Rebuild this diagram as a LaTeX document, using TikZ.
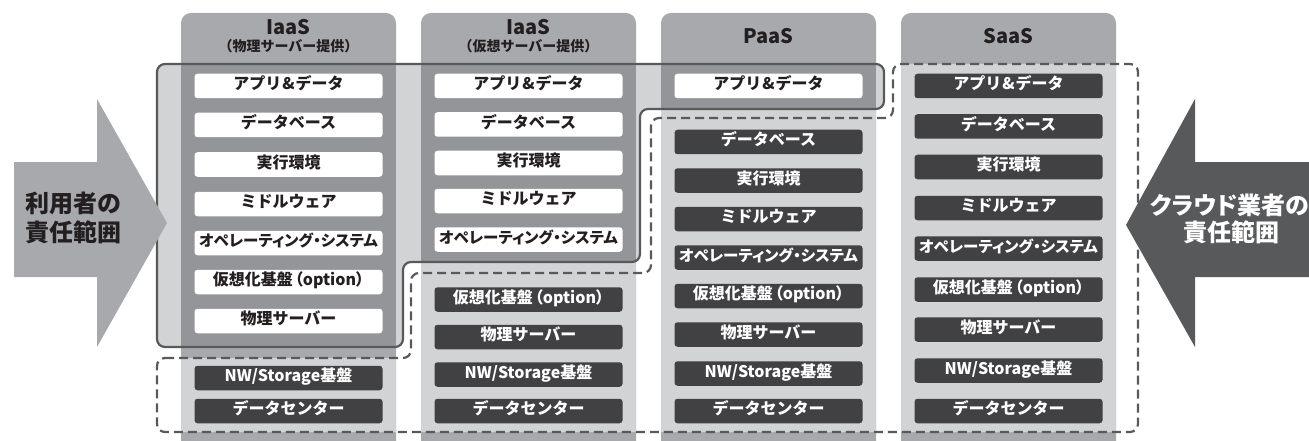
\documentclass[tikz,border=0pt]{standalone}
\usepackage{fontspec}
\newfontfamily\jp{Noto Sans CJK JP}
\newfontfamily\jpp{Noto Sans CJK JP}[RawFeature=+palt]
\definecolor{colmid}{HTML}{A7A9AC}
\definecolor{coldark}{HTML}{939598}
\definecolor{collight}{HTML}{D1D3D4}
\definecolor{boxdark}{HTML}{414042}
\definecolor{lineclr}{HTML}{58595B}
\definecolor{arrowL}{HTML}{A7A9AC}
\definecolor{arrowR}{HTML}{58595B}
\definecolor{txtdark}{HTML}{231F20}
\newcommand{\oslabel}{{\jpp\bfseries\fontsize{15.5}{16}\selectfont オペレーティング・システム}}
\newcommand{\virtlabel}{{\jpp\bfseries 仮想化基盤\hspace{2pt}（option）}}
\newcommand{\applabel}{アプリ\hspace{1pt}\&\hspace{1pt}データ}
\tikzset{
  ubox/.style={fill=white, rounded corners=3pt, minimum width=188pt, minimum height=24.5pt,
    inner sep=0pt, text height=0.8em, text depth=0.04em,
    font=\jp\bfseries\fontsize{16}{17}\selectfont, text=txtdark},
  pbox/.style={ubox, fill=boxdark, text=white},
  hdr/.style={inner sep=0pt, text height=0.75em, text depth=0em, font=\jp\bfseries\fontsize{20}{21}\selectfont, text=txtdark},
  subhdr/.style={inner sep=0pt, text height=0.8em, text depth=0.04em, font=\jp\bfseries\fontsize{14}{15}\selectfont, text=txtdark},
  arrtxt/.style={inner sep=0pt, text height=0.8em, text depth=0.04em, font=\jpp\bfseries\fontsize{24}{25}\selectfont},
  frameline/.style={draw=lineclr, line width=2.2pt, rounded corners=8pt},
  dashline/.style={frameline, dash pattern=on 9pt off 5pt},
}
\begin{document}
\begin{tikzpicture}[x=1pt,y=-1pt]
\useasboundingbox (0,0) rectangle (1309,441);
% columns
\foreach \cx in {181,421,661,901}{
  \fill[colmid] (\cx,441) [rounded corners=10pt] -- (\cx,13) -- (\cx+215,13) [sharp corners] -- (\cx+215,441) -- cycle;
}
% bands between frames
\fill[collight] (421,262) rectangle (636,274);
\fill[collight] (661,109) rectangle (876,119);
% provider region (columns light)
\begin{scope}
  \clip[rounded corners=8pt] (157,358) -- (411,358) -- (411,273) -- (651,273) -- (651,118) -- (893,118) -- (893,64) -- (1138,64) -- (1138,432) -- (157,432) -- cycle;
  \foreach \cx in {181,421,661,901}{ \fill[collight] (\cx,0) rectangle (\cx+215,441); }
\end{scope}
% user region
\fill[collight, rounded corners=8pt] (157,64) -- (884,64) -- (884,109) -- (640,109) -- (640,262) -- (403,262) -- (403,347) -- (157,347) -- cycle;
\begin{scope}
  \clip[rounded corners=8pt] (157,64) -- (884,64) -- (884,109) -- (640,109) -- (640,262) -- (403,262) -- (403,347) -- (157,347) -- cycle;
  \foreach \cx in {181,421,661,901}{ \fill[coldark] (\cx,0) rectangle (\cx+215,441); }
\end{scope}
% frames
\draw[frameline] (157,64) -- (884,64) -- (884,109) -- (640,109) -- (640,262) -- (403,262) -- (403,347) -- (157,347) -- cycle;
\draw[dashline] (157,358) -- (411,358) -- (411,273) -- (651,273) -- (651,118) -- (893,118) -- (893,64) -- (1138,64) -- (1138,432) -- (157,432) -- cycle;
% headers
\node[hdr] (h1) at (288.5,31) {IaaS};
\node[subhdr] (h1s) at (288.5,47.5) {（物理サーバー提供）};
\node[hdr] (h2) at (528.5,31) {IaaS};
\node[subhdr] (h2s) at (528.5,47.5) {（仮想サーバー提供）};
\node[hdr] (h3) at (768.5,39.5) {PaaS};
\node[hdr] (h4) at (1008.5,40) {SaaS};
% column 1
\node[ubox] (a1) at (288.5,86) {\applabel};
\node[ubox] (a2) at (288.5,125) {データベース};
\node[ubox] (a3) at (288.5,164.5) {実行環境};
\node[ubox] (a4) at (288.5,204) {ミドルウェア};
\node[ubox] (a5) at (288.5,243) {\oslabel};
\node[ubox] (a6) at (288.5,282) {\virtlabel};
\node[ubox] (a7) at (288.5,321) {物理サーバー};
\node[pbox] (a8) at (288.5,378) {NW/Storage基盤};
\node[pbox] (a9) at (288.5,411) {データセンター};
% column 2
\node[ubox] (b1) at (528.5,86) {\applabel};
\node[ubox] (b2) at (528.5,124.5) {データベース};
\node[ubox] (b3) at (528.5,163) {実行環境};
\node[ubox] (b4) at (528.5,201) {ミドルウェア};
\node[ubox] (b5) at (528.5,239.5) {\oslabel};
\node[pbox] (b6) at (528.5,299.5) {\virtlabel};
\node[pbox] (b7) at (528.5,337) {物理サーバー};
\node[pbox] (b8) at (528.5,374.5) {NW/Storage基盤};
\node[pbox] (b9) at (528.5,411) {データセンター};
% column 3
\node[ubox] (c1) at (768.5,86) {\applabel};
\node[pbox] (c2) at (768.5,142) {データベース};
\node[pbox] (c3) at (768.5,180.5) {実行環境};
\node[pbox] (c4) at (768.5,219) {ミドルウェア};
\node[pbox] (c5) at (768.5,257.5) {\oslabel};
\node[pbox] (c6) at (768.5,296) {\virtlabel};
\node[pbox] (c7) at (768.5,334.5) {物理サーバー};
\node[pbox] (c8) at (768.5,373.5) {NW/Storage基盤};
\node[pbox] (c9) at (768.5,411) {データセンター};
% column 4
\node[pbox] (d1) at (1008.5,86) {\applabel};
\node[pbox] (d2) at (1008.5,126.5) {データベース};
\node[pbox] (d3) at (1008.5,167) {実行環境};
\node[pbox] (d4) at (1008.5,208) {ミドルウェア};
\node[pbox] (d5) at (1008.5,248.5) {\oslabel};
\node[pbox] (d6) at (1008.5,289.5) {\virtlabel};
\node[pbox] (d7) at (1008.5,329.5) {物理サーバー};
\node[pbox] (d8) at (1008.5,370.5) {NW/Storage基盤};
\node[pbox] (d9) at (1008.5,411) {データセンター};
% arrows
\fill[arrowL] (14,162) -- (97,162) -- (97,99) -- (167,223) -- (97,347) -- (97,277) -- (14,277) -- cycle;
\fill[arrowR] (1309,162) -- (1195,162) -- (1195,99) -- (1126,225) -- (1195,347) -- (1195,277) -- (1309,277) -- cycle;
\node[arrtxt, text=txtdark] (l1) at (73.5,209) {利用者の};
\node[arrtxt, text=txtdark] (l2) at (73.5,237.5) {責任範囲};
\node[arrtxt, text=white] (r1) at (1230,211) {クラウド業者の};
\node[arrtxt, text=white] (r2) at (1231,237.5) {責任範囲};
\end{tikzpicture}
\end{document}
